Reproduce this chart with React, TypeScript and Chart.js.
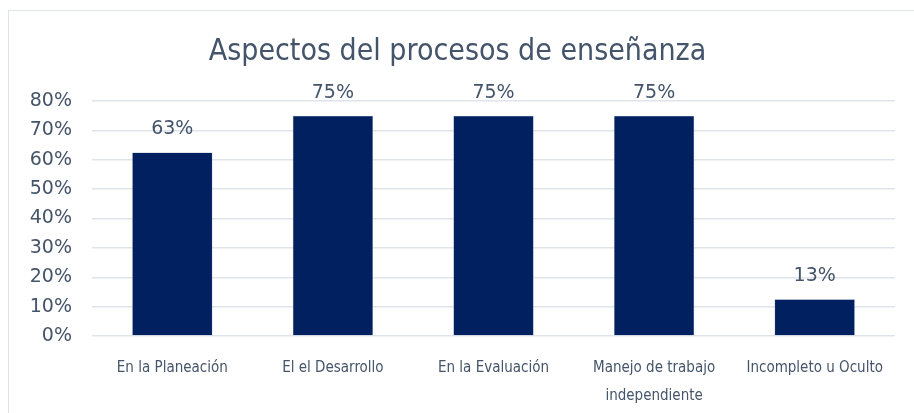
import React, { useEffect, useRef } from "react";
import { Chart, registerables } from "chart.js";

Chart.register(...registerables);

const categories: (string | string[])[] = [
  "En la Planeación",
  "El el Desarrollo",
  "En la Evaluación",
  ["Manejo de trabajo", "independiente"],
  "Incompleto u Oculto",
];
const values = [62.5, 75, 75, 75, 12.5];
const yTicks = [0, 10, 20, 30, 40, 50, 60, 70, 80];
const titleText = "Aspectos del procesos de enseñanza";

const TEXT = "#44546a";
const NARROW = '"Liberation Sans Narrow", "DejaVu Sans Condensed", sans-serif';
const WIDE = '"DejaVu Sans", sans-serif';

const valueLabels = {
  id: "valueLabels",
  afterDatasetsDraw(chart: any) {
    const ctx = chart.ctx;
    const meta = chart.getDatasetMeta(0);
    ctx.save();
    ctx.font = `19px ${WIDE}`;
    ctx.fillStyle = TEXT;
    ctx.textAlign = "center";
    ctx.textBaseline = "alphabetic";
    meta.data.forEach((bar: any, i: number) => {
      const v = chart.data.datasets[0].data[i] as number;
      ctx.fillText(`${Math.round(v)}%`, bar.x, bar.y - 18);
    });
    ctx.restore();
  },
};

export default function App() {
  const ref = useRef<HTMLCanvasElement>(null);
  useEffect(() => {
    document.body.style.margin = "0";
    const chart = new Chart(ref.current!, {
      type: "bar",
      data: {
        labels: categories,
        datasets: [
          {
            data: values,
            backgroundColor: "#002060",
            borderColor: "#8a9ab8",
            borderWidth: 0.5,
            categoryPercentage: 1,
            barPercentage: 0.5,
          },
        ],
      },
      options: {
        animation: false,
        responsive: false,
        maintainAspectRatio: false,
        layout: { padding: { left: 20, right: 19, top: 34, bottom: 0 } },
        plugins: {
          legend: { display: false },
          tooltip: { enabled: false },
          title: {
            display: true,
            text: titleText,
            color: TEXT,
            font: { family: NARROW, size: 30, weight: "normal" },
            padding: { top: 0, bottom: 31 },
          },
        },
        scales: {
          x: {
            grid: { display: false },
            border: { display: false },
            ticks: {
              color: TEXT,
              font: { family: NARROW, size: 15, lineHeight: 28 / 15 },
              padding: 10,
              maxRotation: 0,
              autoSkip: false,
            },
            afterFit: (s: any) => {
              s.height = 77;
            },
          },
          y: {
            min: 0,
            max: 80,
            afterBuildTicks: (s: any) => {
              s.ticks = yTicks.map((v) => ({ value: v }));
            },
            grid: { color: "#dfe3ea", lineWidth: 1.5, drawTicks: false },
            border: { display: false },
            ticks: {
              color: TEXT,
              font: { family: WIDE, size: 19 },
              padding: 20,
              callback: (v: any) => `${v}%`,
            },
            afterFit: (s: any) => {
              s.width = 72;
            },
          },
        },
      },
      plugins: [valueLabels],
    });
    return () => chart.destroy();
  }, []);
  return (
    <div style={{ position: "relative", width: 914, height: 413, overflow: "hidden", background: "#fff" }}>
      <div
        style={{
          position: "absolute",
          left: 8,
          top: 10,
          width: 1000,
          height: 1000,
          border: "1.5px solid #dfe3ea",
        }}
      />
      <canvas ref={ref} width={914} height={413} style={{ position: "absolute", left: 0, top: 0 }} />
    </div>
  );
}
